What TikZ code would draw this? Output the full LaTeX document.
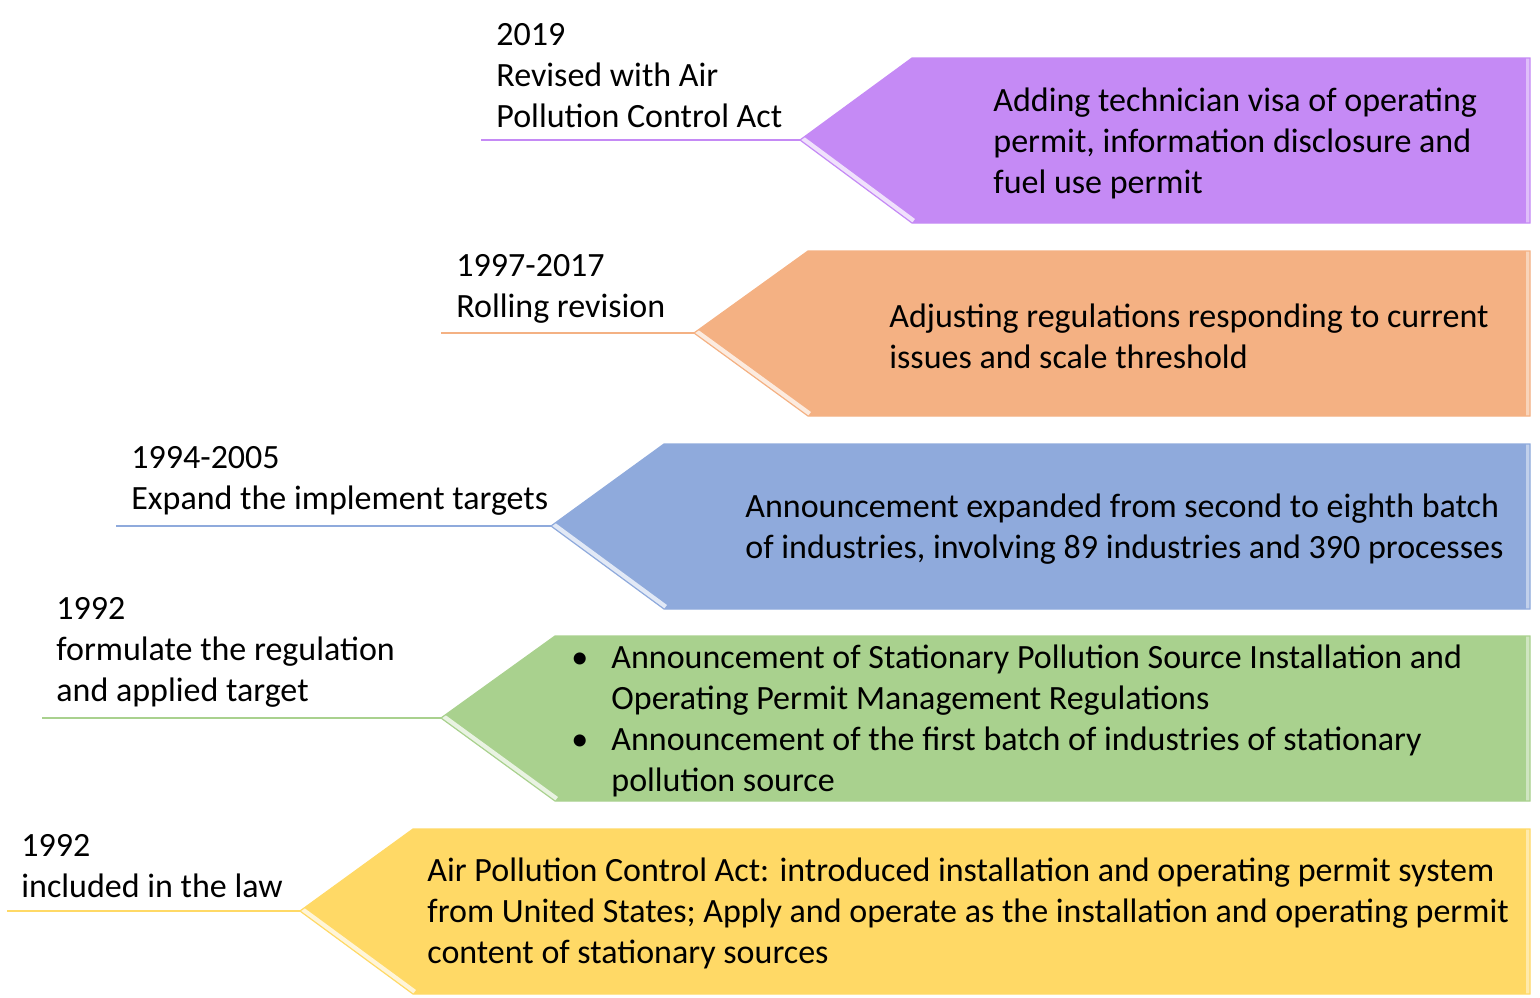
\documentclass[tikz,border=0pt]{standalone}
\usepackage{fontspec}
\setmainfont{Carlito}
\usetikzlibrary{positioning}
\definecolor{stpurple}{RGB}{197,138,245}
\definecolor{storange}{RGB}{244,177,131}
\definecolor{stblue}{RGB}{143,170,220}
\definecolor{stgreen}{RGB}{169,209,142}
\definecolor{styellow}{RGB}{255,217,102}

\begin{document}
\begin{tikzpicture}[
  x=0.5pt,y=-0.5pt,
  yrlbl/.style={anchor=west,align=left,inner sep=0pt,
                font=\fontsize{17}{20.5}\selectfont},
  boxtxt/.style={anchor=west,align=left,inner sep=0pt,
                 font=\fontsize{17}{20.5}\selectfont},
  tl/.style={line width=1pt},
  bevel/.style={white,opacity=.75,line width=5pt},
  rbevel/.style={white,opacity=.45,line width=4pt},
  rim/.style={line width=0.6pt}
]
  \useasboundingbox (0,0) rectangle (1540,997);

  % Arrow shapes
  \fill[stpurple] (800,140) -- (912,58) -- (1530,58) -- (1530,223) -- (912,223) -- cycle;
  \begin{scope}
    \clip (800,140) -- (912,58) -- (1530,58) -- (1530,223) -- (912,223) -- cycle;
    \draw[bevel] (800,140) -- (912,223);
    \draw[rbevel] (1530,58) -- (1530,223);
  \end{scope}
  \draw[rim,stpurple] (800,140) -- (912,58) -- (1530,58) -- (1530,223) -- (912,223) -- cycle;
  \fill[storange] (694,333) -- (808,251) -- (1530,251) -- (1530,416) -- (808,416) -- cycle;
  \begin{scope}
    \clip (694,333) -- (808,251) -- (1530,251) -- (1530,416) -- (808,416) -- cycle;
    \draw[bevel] (694,333) -- (808,416);
    \draw[rbevel] (1530,251) -- (1530,416);
  \end{scope}
  \draw[rim,storange] (694,333) -- (808,251) -- (1530,251) -- (1530,416) -- (808,416) -- cycle;
  \fill[stblue] (551,526) -- (664,444) -- (1530,444) -- (1530,609) -- (664,609) -- cycle;
  \begin{scope}
    \clip (551,526) -- (664,444) -- (1530,444) -- (1530,609) -- (664,609) -- cycle;
    \draw[bevel] (551,526) -- (664,609);
    \draw[rbevel] (1530,444) -- (1530,609);
  \end{scope}
  \draw[rim,stblue] (551,526) -- (664,444) -- (1530,444) -- (1530,609) -- (664,609) -- cycle;
  \fill[stgreen] (441,718) -- (555,636) -- (1530,636) -- (1530,801) -- (555,801) -- cycle;
  \begin{scope}
    \clip (441,718) -- (555,636) -- (1530,636) -- (1530,801) -- (555,801) -- cycle;
    \draw[bevel] (441,718) -- (555,801);
    \draw[rbevel] (1530,636) -- (1530,801);
  \end{scope}
  \draw[rim,stgreen] (441,718) -- (555,636) -- (1530,636) -- (1530,801) -- (555,801) -- cycle;
  \fill[styellow] (300,911) -- (413,829) -- (1530,829) -- (1530,994) -- (413,994) -- cycle;
  \begin{scope}
    \clip (300,911) -- (413,829) -- (1530,829) -- (1530,994) -- (413,994) -- cycle;
    \draw[bevel] (300,911) -- (413,994);
    \draw[rbevel] (1530,829) -- (1530,994);
  \end{scope}
  \draw[rim,styellow] (300,911) -- (413,829) -- (1530,829) -- (1530,994) -- (413,994) -- cycle;

  % Tips and line ends
  \coordinate (tip19) at (800,140);  \coordinate (ln19) at (481,140);
  \coordinate (tip97) at (694,333);  \coordinate (ln97) at (441,333);
  \coordinate (tip94) at (551,526);  \coordinate (ln94) at (116,526);
  \coordinate (tip92r) at (441,718); \coordinate (ln92r) at (42,718);
  \coordinate (tip92l) at (300,911); \coordinate (ln92l) at (7,911);

  % Year labels
  \node[yrlbl] (yr19) at (496,76) {2019\\Revised with Air\\Pollution Control Act};
  \node[yrlbl] (yr97) at (456,289) {1997-2017\\Rolling revision};
  \node[yrlbl] (yr94) at (131,481) {1994-2005\\Expand the implement targets};
  \node[yrlbl] (yr92r) at (56,652) {1992\\formulate the regulation\\and applied target};
  \node[yrlbl] (yr92l) at (21,866) {1992\\included in the law};

  % Box texts
  \node[boxtxt] (bx19) at (993,143) {Adding technician visa of operating\\permit, information disclosure and\\fuel use permit};
  \node[boxtxt] (bx97) at (889,336) {Adjusting regulations responding to current\\issues and scale threshold};
  \node[boxtxt] (bx94) at (745,529) {Announcement expanded from second to eighth batch\\of industries, involving 89 industries and 390 processes};
  \node[boxtxt] (bx92r) at (571,721) {\makebox[20pt][l]{•}Announcement of Stationary Pollution Source Installation and\\
    \hspace*{20pt}Operating Permit Management Regulations\\
    \makebox[20pt][l]{•}Announcement of the first batch of industries of stationary\\
    \hspace*{20pt}pollution source};
  \node[boxtxt] (bx92l) at (427,913) {Air Pollution Control Act: introduced installation and operating permit system\\from United States; Apply and operate as the installation and operating permit\\content of stationary sources};

  % Lines
  \draw[tl,stpurple] (ln19) -- (tip19);
  \draw[tl,storange] (ln97) -- (tip97);
  \draw[tl,stblue] (ln94) -- (tip94);
  \draw[tl,stgreen] (ln92r) -- (tip92r);
  \draw[tl,styellow] (ln92l) -- (tip92l);
\end{tikzpicture}
\end{document}
